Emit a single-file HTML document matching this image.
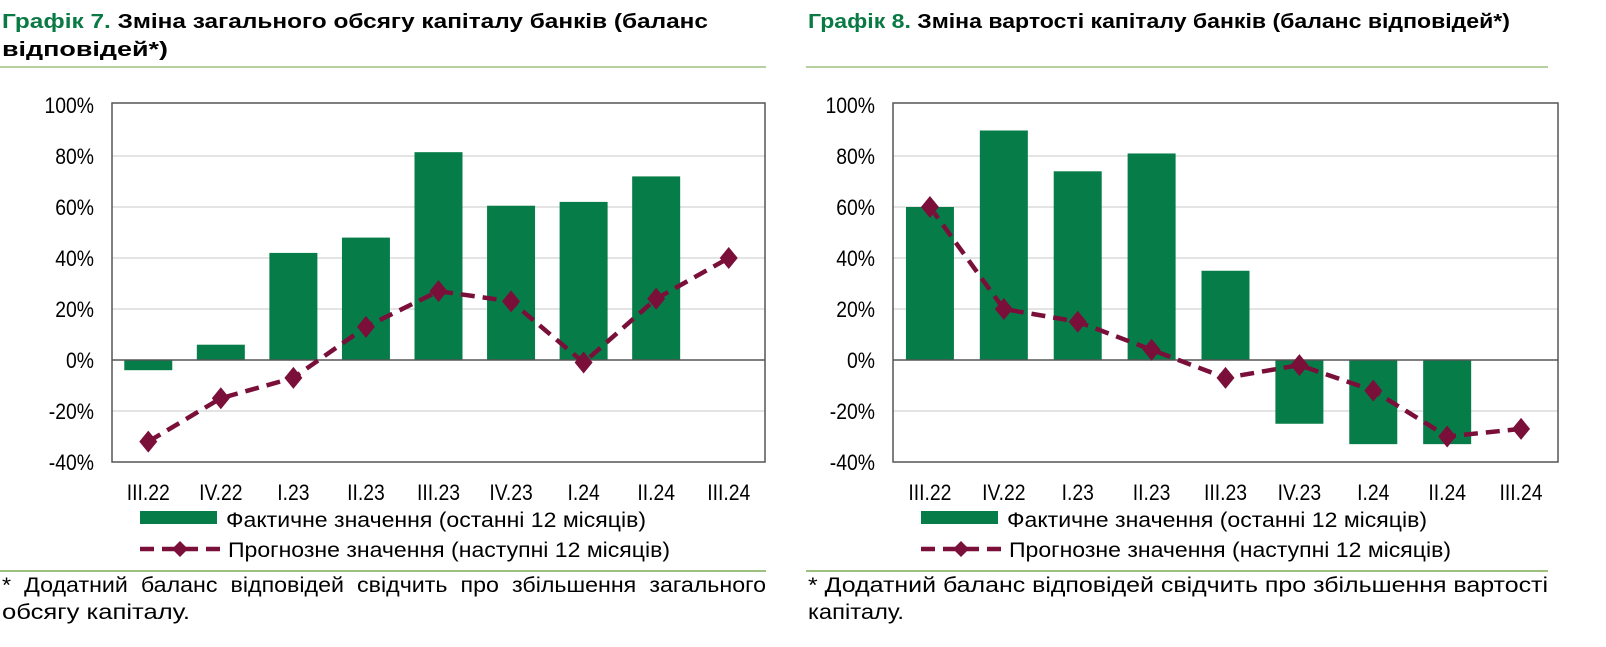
<!DOCTYPE html>
<html><head><meta charset="utf-8"><style>
body{margin:0;background:#fff;}
svg{display:block;font-family:"Liberation Sans",sans-serif;}
</style></head><body>
<svg id="s" width="1606" height="647" xmlns="http://www.w3.org/2000/svg">
<g font-size="20" font-weight="bold">
<text x="2" y="28" textLength="706" lengthAdjust="spacingAndGlyphs"><tspan fill="#0a7a45">Графік 7.</tspan> Зміна загального обсягу капіталу банків (баланс</text>
<text x="2" y="56" textLength="166" lengthAdjust="spacingAndGlyphs">відповідей*)</text>
</g>
<line x1="0" y1="67" x2="766" y2="67" stroke="#9dc07f" stroke-width="1.5"/>
<g font-size="20" font-weight="bold">
<text x="808" y="28" textLength="702" lengthAdjust="spacingAndGlyphs"><tspan fill="#0a7a45">Графік 8.</tspan> Зміна вартості капіталу банків (баланс відповідей*)</text>
</g>
<line x1="806" y1="67" x2="1548" y2="67" stroke="#9dc07f" stroke-width="1.5"/>
<line x1="0" y1="571" x2="766" y2="571" stroke="#9dc07f" stroke-width="2"/>
<line x1="806" y1="571" x2="1548" y2="571" stroke="#9dc07f" stroke-width="2"/>
<g font-size="21">
<text x="2" y="592" textLength="764" lengthAdjust="spacingAndGlyphs" word-spacing="6">* Додатний баланс відповідей свідчить про збільшення загального</text>
<text x="2" y="619" textLength="188" lengthAdjust="spacingAndGlyphs">обсягу капіталу.</text>
</g>
<g font-size="21">
<text x="808" y="592" textLength="740" lengthAdjust="spacingAndGlyphs">* Додатний баланс відповідей свідчить про збільшення вартості</text>
<text x="808" y="619" textLength="96" lengthAdjust="spacingAndGlyphs">капіталу.</text>
</g>
<g id="c7"></g>
<g id="c8"></g>
</svg>
<script>
const categories = ["III.22","IV.22","I.23","II.23","III.23","IV.23","I.24","II.24","III.24"];
const yTicks = [100,80,60,40,20,0,-20,-40];
const actual7 = [-4,6,42,48,81.5,60.5,62,72,null];
const forecast7 = [-32,-15,-7,13,27,23,-1,24,40];
const actual8 = [60,90,74,81,35,-25,-33,-33,null];
const forecast8 = [60,20,15,4,-7,-2,-12,-30,-27];
const legendBar = "Фактичне значення (останні 12 місяців)";
const legendLine = "Прогнозне значення (наступні 12 місяців)";
const NS="http://www.w3.org/2000/svg";
function mk(p,t,a){const e=document.createElementNS(NS,t);for(const k in a)e.setAttribute(k,a[k]);p.appendChild(e);return e;}
function draw(g,L,R,actual,forecast,legX){
  const T=105,B=462,yMin=-40,yMax=100;
  const y=v=>T+(yMax-v)/(yMax-yMin)*(B-T);
  const bw=(R-L)/categories.length;
  const x=i=>L+bw*(i+0.5);
  yTicks.forEach(t=>{
    if(t!==100&&t!==-40&&t!==0){const l=mk(g,'line',{x1:L,x2:R,y1:y(t),y2:y(t),stroke:'#c8c8c8','stroke-width':1});
    
    }
    const tx=mk(g,'text',{x:L-18,y:y(t)+8,'text-anchor':'end','font-size':22,transform:`translate(${L-18},0) scale(0.88,1) translate(${-(L-18)},0)`});
    tx.textContent=t+'%';
    
    
  });
  actual.forEach((v,i)=>{
    if(v===null)return;
    const r=mk(g,'rect',{x:x(i)-24,width:48,y:Math.min(y(v),y(0)),height:Math.abs(y(v)-y(0)),fill:'#067d48'});
    
    
  });
  const z=mk(g,'line',{x1:L,x2:R,y1:y(0),y2:y(0),stroke:'#555','stroke-width':1.5});
  
  
  const fr=mk(g,'rect',{x:L,y:T-2,width:R-L,height:B-T+2,fill:'none',stroke:'#555','stroke-width':1.5});
  
  
  const pl=mk(g,'polyline',{points:forecast.map((v,i)=>x(i)+','+y(v)).join(' '),fill:'none',stroke:'#7a0f3a','stroke-width':4.5,'stroke-dasharray':'14,8'});
  
  
  forecast.forEach((v,i)=>{
    const cx=x(i),cy=y(v);
    const d=mk(g,'polygon',{points:`${cx},${cy-11} ${cx+9},${cy} ${cx},${cy+11} ${cx-9},${cy}`,fill:'#7a0f3a'});
    
    
  });
  categories.forEach((c,i)=>{
    const t=mk(g,'text',{x:x(i),y:500,'text-anchor':'middle','font-size':22,transform:`translate(${x(i)},0) scale(0.88,1) translate(${-x(i)},0)`});
    t.textContent=c;
    
    
  });
  const lr=mk(g,'rect',{x:legX,y:511,width:77,height:13,fill:'#067d48'});
  
  
  const lt=mk(g,'text',{x:legX+86,y:527,'font-size':21,textLength:420,lengthAdjust:'spacingAndGlyphs'});lt.textContent=legendBar;
  
  
  const ll=mk(g,'line',{x1:legX,x2:legX+80,y1:549,y2:549,stroke:'#7a0f3a','stroke-width':4.5,'stroke-dasharray':'14,8'});
  
  
  const lx=legX+40;
  const ld=mk(g,'polygon',{points:`${lx},${541} ${lx+8},549 ${lx},557 ${lx-8},549`,fill:'#7a0f3a'});
  
  
  const lt2=mk(g,'text',{x:legX+88,y:557,'font-size':21,textLength:442,lengthAdjust:'spacingAndGlyphs'});lt2.textContent=legendLine;
  
  
}
draw(document.getElementById('c7'),112,765,actual7,forecast7,140);
draw(document.getElementById('c8'),893,1558,actual8,forecast8,921);
</script>
</body></html>
